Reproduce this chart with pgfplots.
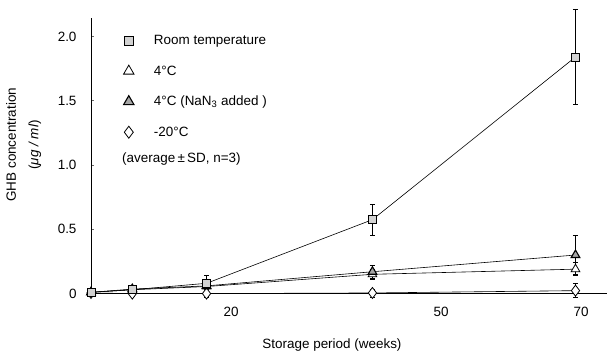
\documentclass[border=0pt]{standalone}
\usepackage{pgfplots}
\pgfplotsset{compat=1.18}
\usepackage{fontspec}
\setmainfont{Liberation Sans}
\newcommand{\fs}{\fontsize{13.5}{15.5}\selectfont}
\begin{document}
\begin{tikzpicture}
\useasboundingbox (0,0) rectangle (607bp,354bp);
\begin{axis}[
  at={(91bp,60.4bp)}, anchor=south west,
  scale only axis, width=516bp, height=275.6bp,
  xmin=0, xmax=73.7, ymin=0, ymax=2.143,
  axis x line=bottom, axis y line=left,
  axis line style={-, line width=0.8pt},
  clip=false,
  /pgf/number format/assume math mode=true,
  tick label style={font=\fs},
  xtick={20,50,70}, xticklabels={20,50,70},
  xtick style={draw=none},
  xticklabel style={yshift=-10bp},
  ytick={0,0.5,1,1.5,2}, yticklabels={0,0.5,1.0,1.5,2.0},
  ytick style={draw=black!60, line width=0.4pt},
  tick align=inside, major tick length=3bp,
  yticklabel style={xshift=-11bp},
  xlabel={Storage period (weeks)},
  xlabel style={at={(axis description cs:0.467,-0.1865)}, anchor=center, font=\fs},
  ylabel={GHB concentration\\[7bp](\textit{μg / ml})},
  ylabel style={at={(axis description cs:-0.09,0.54)}, anchor=south, align=center, font=\fs},
  error bars/error bar style={line width=0.5pt, black},
  error bars/error mark options={rotate=90, mark size=2.5bp, line width=0.5pt},
  legend style={draw=none, fill=none, at={(axis cs:4.2,2.04)}, anchor=north west,
    font=\fs, row sep=15.5bp,
    /tikz/every odd column/.append style={column sep=18bp}},
  legend cell align=left,
]
% -20 C
\addplot+[forget plot, black, line width=0.6pt, mark=diamond*, mark size=5.5bp,
  mark options={fill=white, solid, line width=0.8pt},
  error bars/.cd, y dir=both, y explicit]
  coordinates {(0,0.005) +- (0,0.01) (5.9,0.0) +- (0,0.02) (16.5,0.0) +- (0,0.03) (40.2,0.005) +- (0,0.03) (69.2,0.023) +- (0,0.055)};
% 4 C open
\addplot+[forget plot, black, line width=0.6pt, mark=triangle*, mark size=5bp,
  mark options={fill=white, solid, line width=0.8pt},
  error bars/.cd, y dir=both, y explicit]
  coordinates {(0,0.01) +- (0,0.01) (5.9,0.03) +- (0,0.02) (16.5,0.055) +- (0,0.02) (40.2,0.15) +- (0,0.04) (69.2,0.19) +- (0,0.05)};
% 4 C NaN3
\addplot+[forget plot, black, line width=0.6pt, mark=triangle*, mark size=5bp,
  mark options={fill=gray!70, solid, line width=1.1pt},
  error bars/.cd, y dir=both, y explicit]
  coordinates {(0,0.01) +- (0,0.01) (5.9,0.035) +- (0,0.02) (16.5,0.06) +- (0,0.02) (40.2,0.17) +- (0,0.05) (69.2,0.30) +- (0,0.15)};
% Room temperature
\addplot+[forget plot, black, line width=0.6pt, mark=square*, mark size=4bp,
  mark options={fill=gray!35, solid, line width=0.9pt},
  error bars/.cd, y dir=both, y explicit]
  coordinates {(0,0.01) +- (0,0.01) (5.9,0.03) +- (0,0.02) (16.5,0.08) +- (0,0.065) (40.2,0.575) +- (0,0.123) (69.2,1.84) +- (0,0.37)};

\addlegendimage{only marks, mark=square*, mark size=4.5bp, mark options={fill=gray!35, draw=black, line width=0.9pt}}
\addlegendentry{Room temperature}
\addlegendimage{only marks, mark=triangle*, mark size=6bp, mark options={fill=white, draw=black, line width=0.8pt}}
\addlegendentry{4°C}
\addlegendimage{only marks, mark=triangle*, mark size=6bp, mark options={fill=gray!70, draw=black, line width=1.1pt}}
\addlegendentry{4°C (NaN\textsubscript{3} added )}
\addlegendimage{only marks, mark=diamond*, mark size=6bp, mark options={fill=white, draw=black, line width=0.8pt}}
\addlegendentry{-20°C}
\node[anchor=west, inner sep=0pt, font=\fs] at (axis cs:4.43,1.047) {(average\,±\,SD, n=3)};
\end{axis}
\end{tikzpicture}
\end{document}
